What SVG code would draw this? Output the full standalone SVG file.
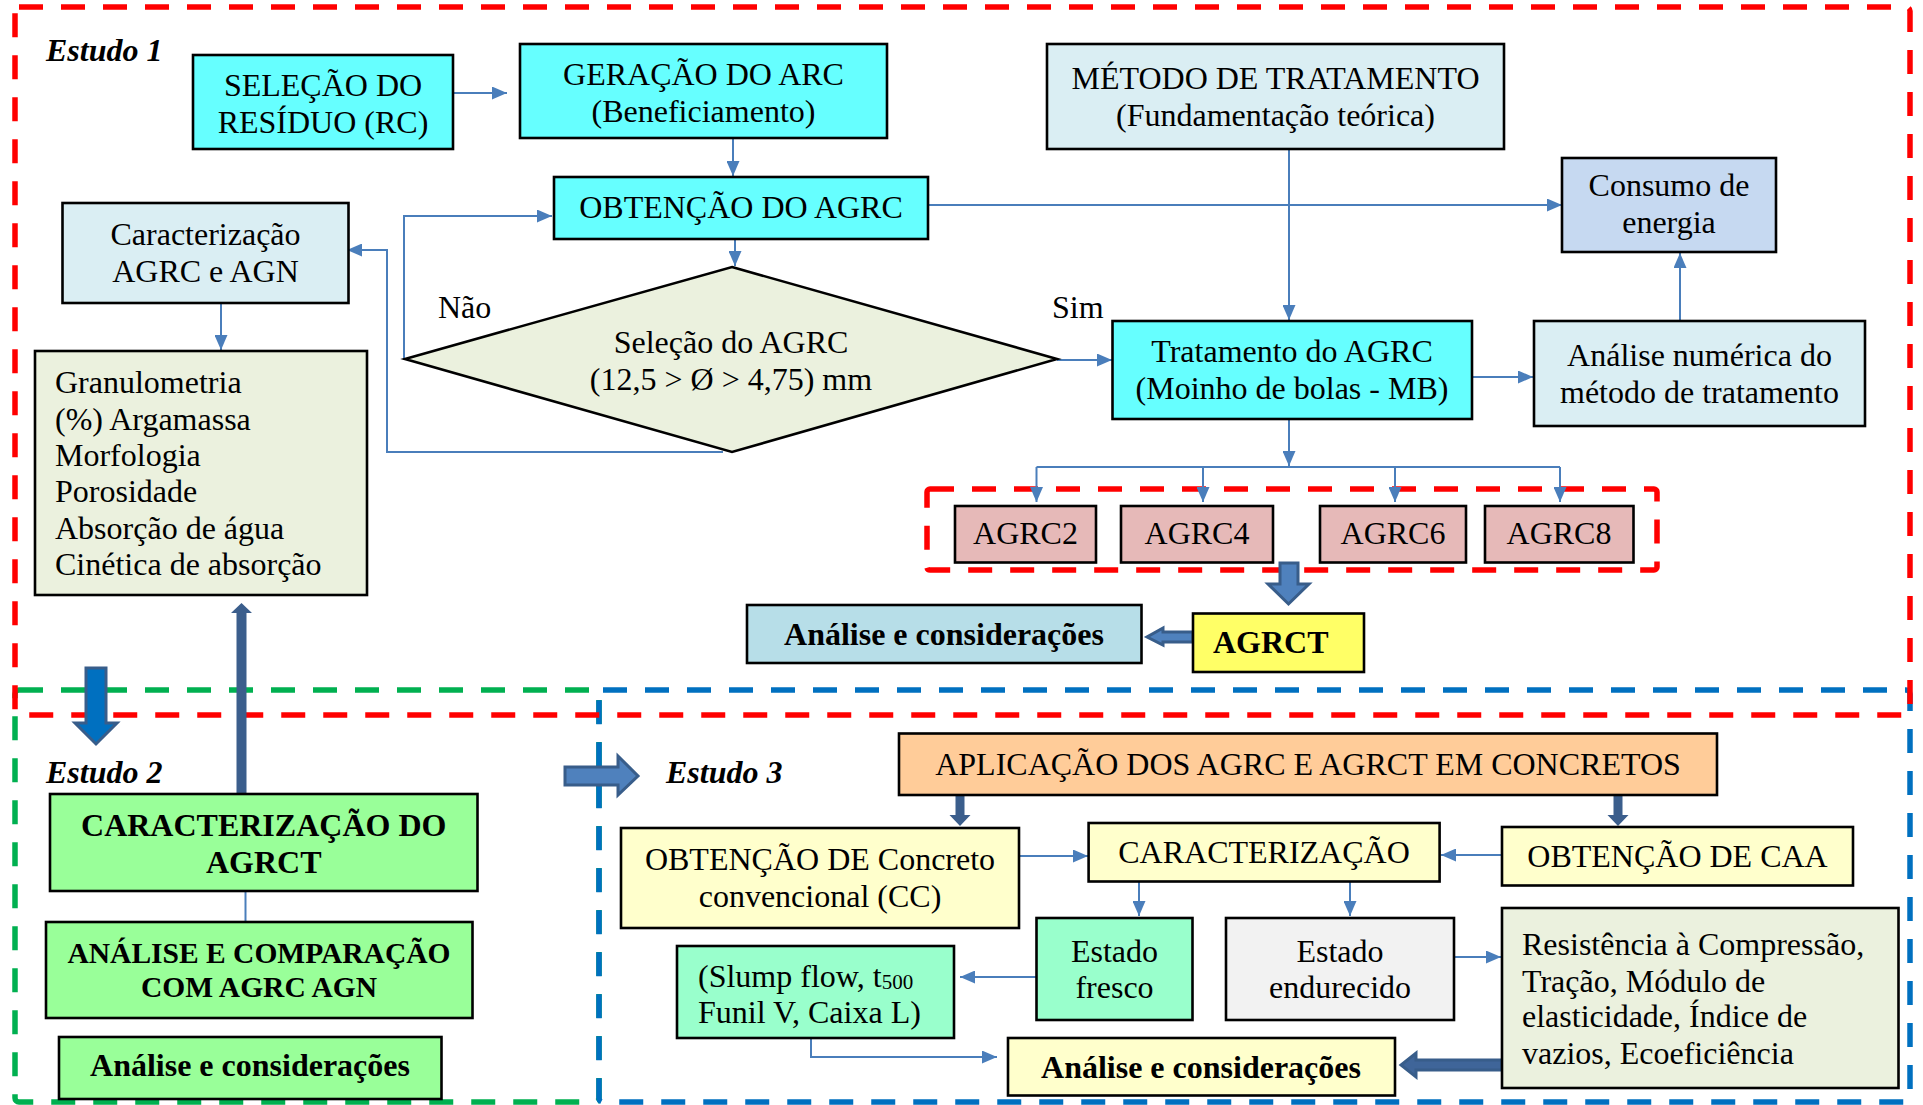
<svg xmlns="http://www.w3.org/2000/svg" width="1923" height="1105" viewBox="0 0 1923 1105">
  <style>
    text { font-family: "Liberation Serif", "Times New Roman", serif; font-size: 32px; fill: #000; }
    .c { text-anchor: middle; }
    .b { font-weight: bold; }
    .lbl { font-weight: bold; font-style: italic; }
    .box { stroke: #000; stroke-width: 2.6; }
    .cyan { fill: #66FFFF; }
    .pale { fill: #DAEEF3; }
    .olive { fill: #EBF1DE; }
    .pink { fill: #E6B9B8; }
    .green { fill: #99FF99; }
    .cream { fill: #FFFFCC; }
    .conn { fill: none; stroke: #4A7EBB; stroke-width: 2; }
    .zone { fill: none; stroke-width: 5.5; stroke-dasharray: 24 18; }
    .fat { fill: #4F81BD; stroke: #385D8A; stroke-width: 3; stroke-linejoin: miter; }
    .dark { fill: #3B5E8C; stroke: none; }
  </style>
  <defs>
    <marker id="ah" markerUnits="userSpaceOnUse" markerWidth="15" markerHeight="13" refX="15" refY="6.5" orient="auto">
      <path d="M0,0 L15,6.5 L0,13 z" fill="#4A7EBB"/>
    </marker>
  </defs>
  <rect width="1923" height="1105" fill="#fff"/>

  <!-- study zones -->
  <g id="zones">
    <rect class="zone" x="15" y="690" width="584" height="412" rx="4" stroke="#00B050"/>
    <rect class="zone" x="599" y="690" width="1311" height="412" rx="4" stroke="#0070C0"/>
    <rect class="zone" x="15" y="7" width="1895" height="708" rx="4" stroke="#FF0000"/>
    <rect class="zone" x="927" y="489" width="730" height="81" rx="3" stroke="#FF0000" stroke-width="4.5" stroke-dasharray="18 12"/>
  </g>

  <!-- zone labels -->
  <text class="lbl" x="46" y="61">Estudo 1</text>
  <text class="lbl" x="46" y="783">Estudo 2</text>
  <text class="lbl" x="666" y="783">Estudo 3</text>

  <!-- connectors -->
  <g id="connectors">
    <line class="conn" x1="453" y1="93" x2="507" y2="93" marker-end="url(#ah)"/>
    <line class="conn" x1="733" y1="138" x2="733" y2="176" marker-end="url(#ah)"/>
    <line class="conn" x1="888" y1="205" x2="1562" y2="205" marker-end="url(#ah)"/>
    <line class="conn" x1="735" y1="239" x2="735" y2="266" marker-end="url(#ah)"/>
    <polyline class="conn" points="405,359 404,359 404,216 552,216" marker-end="url(#ah)"/>
    <polyline class="conn" points="723,452 387,452 387,250 347,250" marker-end="url(#ah)"/>
    <line class="conn" x1="221" y1="303" x2="221" y2="350" marker-end="url(#ah)"/>
    <line class="conn" x1="1057" y1="360" x2="1112" y2="360" marker-end="url(#ah)"/>
    <line class="conn" x1="1289" y1="149" x2="1289" y2="320" marker-end="url(#ah)"/>
    <line class="conn" x1="1472" y1="377" x2="1533" y2="377" marker-end="url(#ah)"/>
    <line class="conn" x1="1680" y1="321" x2="1680" y2="253" marker-end="url(#ah)"/>
    <line class="conn" x1="1289" y1="419" x2="1289" y2="466" marker-end="url(#ah)"/>
    <line class="conn" x1="1036.5" y1="467" x2="1560" y2="467"/>
    <line class="conn" x1="1036.5" y1="467" x2="1036.5" y2="502" marker-end="url(#ah)"/>
    <line class="conn" x1="1203" y1="467" x2="1203" y2="502" marker-end="url(#ah)"/>
    <line class="conn" x1="1395" y1="467" x2="1395" y2="502" marker-end="url(#ah)"/>
    <line class="conn" x1="1560" y1="467" x2="1560" y2="502" marker-end="url(#ah)"/>
    <line class="conn" x1="245.5" y1="891" x2="245.5" y2="922"/>
    <line class="conn" x1="1019" y1="856" x2="1088" y2="856" marker-end="url(#ah)"/>
    <line class="conn" x1="1502" y1="855" x2="1441" y2="855" marker-end="url(#ah)"/>
    <line class="conn" x1="1139" y1="882" x2="1139" y2="916" marker-end="url(#ah)"/>
    <line class="conn" x1="1350" y1="882" x2="1350" y2="916" marker-end="url(#ah)"/>
    <line class="conn" x1="1036" y1="977" x2="960" y2="977" marker-end="url(#ah)"/>
    <line class="conn" x1="1454" y1="957" x2="1501" y2="957" marker-end="url(#ah)"/>
    <polyline class="conn" points="811,1038 811,1057 997,1057" marker-end="url(#ah)"/>

    <!-- block arrows -->
    <polygon class="fat" style="fill:#0070C0" points="86,668 106,668 106,723 117,723 96,744 75,723 86,723"/>
    <polygon class="dark" points="236.5,794 246.5,794 246.5,613 252,613 241.5,603 231,613 236.5,613"/>
    <polygon class="fat" points="565,767 618,767 618,756 638,776 618,795 618,785 565,785"/>
    <polygon class="fat" points="1280,563 1298,563 1298,584 1309,584 1288.5,604 1268,584 1280,584"/>
    <polygon class="fat" stroke-width="2.5" points="1193,632 1163,632 1163,628 1147,637 1163,645 1163,642 1193,642"/>
    <polygon class="dark" points="955.5,795 964.5,795 964.5,815 970.5,815 960,826 949.5,815 955.5,815"/>
    <polygon class="dark" points="1613.5,795 1622.5,795 1622.5,815 1628.5,815 1618,826 1607.5,815 1613.5,815"/>
    <polygon class="fat" stroke-width="2" style="fill:#3F6599" points="1502,1060 1416,1060 1416,1053 1401,1065 1416,1077 1416,1070 1502,1070"/>
  </g>

  <!-- Estudo 1 -->
  <g id="selecao-residuo">
    <rect class="box cyan" x="193" y="55" width="260" height="94"/>
    <text class="c" x="323" y="96">SELEÇÃO DO</text>
    <text class="c" x="323" y="133">RESÍDUO (RC)</text>
  </g>
  <g id="geracao-arc">
    <rect class="box cyan" x="520" y="44" width="367" height="94"/>
    <text class="c" x="703.5" y="85">GERAÇÃO DO ARC</text>
    <text class="c" x="703.5" y="122">(Beneficiamento)</text>
  </g>
  <g id="obtencao-agrc">
    <rect class="box cyan" x="554" y="177" width="374" height="62"/>
    <text class="c" x="741" y="218">OBTENÇÃO DO AGRC</text>
  </g>
  <g id="caracterizacao-agrc-agn">
    <rect class="box pale" x="62.5" y="203" width="286" height="100"/>
    <text class="c" x="205.5" y="245">Caracterização</text>
    <text class="c" x="205.5" y="282">AGRC e AGN</text>
  </g>
  <g id="ensaios">
    <rect class="box olive" x="35" y="351" width="332" height="244"/>
    <text x="55" y="393">Granulometria</text>
    <text x="55" y="430">(%) Argamassa</text>
    <text x="55" y="466">Morfologia</text>
    <text x="55" y="502">Porosidade</text>
    <text x="55" y="539">Absorção de água</text>
    <text x="55" y="575">Cinética de absorção</text>
  </g>
  <g id="selecao-agrc">
    <polygon points="732,267 1057,359 732,452 405,359" fill="#EBF1DE" stroke="#000" stroke-width="2.6"/>
    <text class="c" x="731" y="353">Seleção do AGRC</text>
    <text class="c" x="731" y="390">(12,5 &gt; Ø &gt; 4,75) mm</text>
  </g>
  <text x="438" y="318">Não</text>
  <text x="1052" y="318">Sim</text>
  <g id="metodo-tratamento">
    <rect class="box pale" x="1047" y="44" width="457" height="105"/>
    <text class="c" x="1275.5" y="89">MÉTODO DE TRATAMENTO</text>
    <text class="c" x="1275.5" y="126">(Fundamentação teórica)</text>
  </g>
  <g id="consumo-energia">
    <rect class="box" fill="#C6D9F1" x="1562" y="158" width="214" height="94"/>
    <text class="c" x="1669" y="196">Consumo de</text>
    <text class="c" x="1669" y="233">energia</text>
  </g>
  <g id="tratamento-agrc">
    <rect class="box cyan" x="1112.5" y="321" width="359.5" height="98"/>
    <text class="c" x="1292" y="362">Tratamento do AGRC</text>
    <text class="c" x="1292" y="399">(Moinho de bolas - MB)</text>
  </g>
  <g id="analise-numerica">
    <rect class="box pale" x="1534" y="321" width="331" height="105"/>
    <text class="c" x="1699.5" y="366">Análise numérica do</text>
    <text class="c" x="1699.5" y="403">método de tratamento</text>
  </g>
  <g id="agrc2">
    <rect class="box pink" x="955" y="506" width="141" height="56.5"/>
    <text class="c" x="1025.5" y="544">AGRC2</text>
  </g>
  <g id="agrc4">
    <rect class="box pink" x="1121" y="506" width="152" height="56.5"/>
    <text class="c" x="1197" y="544">AGRC4</text>
  </g>
  <g id="agrc6">
    <rect class="box pink" x="1320" y="506" width="146" height="56.5"/>
    <text class="c" x="1393" y="544">AGRC6</text>
  </g>
  <g id="agrc8">
    <rect class="box pink" x="1485" y="506" width="148.5" height="56.5"/>
    <text class="c" x="1559" y="544">AGRC8</text>
  </g>
  <g id="agrct">
    <rect class="box" fill="#FFFF66" x="1193" y="613.5" width="171" height="58.5"/>
    <text class="b" x="1213" y="653">AGRCT</text>
  </g>
  <g id="analise-estudo1">
    <rect class="box" fill="#B7DEE8" x="747" y="605" width="394.5" height="58"/>
    <text class="c b" x="944" y="645">Análise e considerações</text>
  </g>

  <!-- Estudo 2 -->
  <g id="caracterizacao-agrct">
    <rect class="box green" x="50" y="794" width="427.5" height="97"/>
    <text class="c b" x="263.7" y="836">CARACTERIZAÇÃO DO</text>
    <text class="c b" x="263.7" y="873">AGRCT</text>
  </g>
  <g id="analise-comparacao">
    <rect class="box green" x="46" y="922" width="426.5" height="96"/>
    <text class="c b" x="259" y="963" style="font-size:29.5px">ANÁLISE E COMPARAÇÃO</text>
    <text class="c b" x="259" y="997" style="font-size:29.5px">COM AGRC AGN</text>
  </g>
  <g id="analise-estudo2">
    <rect class="box green" x="59" y="1037" width="382.5" height="62"/>
    <text class="c b" x="250" y="1076">Análise e considerações</text>
  </g>

  <!-- Estudo 3 -->
  <g id="aplicacao">
    <rect class="box" fill="#FFCC99" x="899" y="733.5" width="818" height="61.5"/>
    <text class="c" x="1308" y="775">APLICAÇÃO DOS AGRC E AGRCT EM CONCRETOS</text>
  </g>
  <g id="obtencao-cc">
    <rect class="box cream" x="621" y="828" width="398" height="100"/>
    <text class="c" x="820" y="870">OBTENÇÃO DE Concreto</text>
    <text class="c" x="820" y="907">convencional (CC)</text>
  </g>
  <g id="caracterizacao">
    <rect class="box cream" x="1088.6" y="823" width="351" height="58.5"/>
    <text class="c" x="1264" y="863">CARACTERIZAÇÃO</text>
  </g>
  <g id="obtencao-caa">
    <rect class="box cream" x="1502" y="827" width="351" height="58.5"/>
    <text class="c" x="1677.5" y="867">OBTENÇÃO DE CAA</text>
  </g>
  <g id="estado-fresco">
    <rect class="box" fill="#99FFCC" x="1036.5" y="918" width="156" height="102"/>
    <text class="c" x="1114.5" y="962">Estado</text>
    <text class="c" x="1114.5" y="998">fresco</text>
  </g>
  <g id="estado-endurecido">
    <rect class="box" fill="#F2F2F2" x="1226" y="918" width="228" height="102"/>
    <text class="c" x="1340" y="962">Estado</text>
    <text class="c" x="1340" y="998">endurecido</text>
  </g>
  <g id="ensaios-fresco">
    <rect class="box" fill="#99FFCC" x="677" y="946" width="277" height="92"/>
    <text x="698" y="987">(Slump flow, t<tspan style="font-size:21px" dy="2">500</tspan></text>
    <text x="698" y="1023">Funil V, Caixa L)</text>
  </g>
  <g id="ensaios-endurecido">
    <rect class="box olive" x="1502" y="908" width="396.5" height="180"/>
    <text x="1522" y="955">Resistência à Compressão,</text>
    <text x="1522" y="992">Tração, Módulo de</text>
    <text x="1522" y="1027">elasticidade, Índice de</text>
    <text x="1522" y="1064">vazios, Ecoeficiência</text>
  </g>
  <g id="analise-estudo3">
    <rect class="box cream" x="1008" y="1038" width="387" height="57.5"/>
    <text class="c b" x="1201" y="1078">Análise e considerações</text>
  </g>
</svg>
